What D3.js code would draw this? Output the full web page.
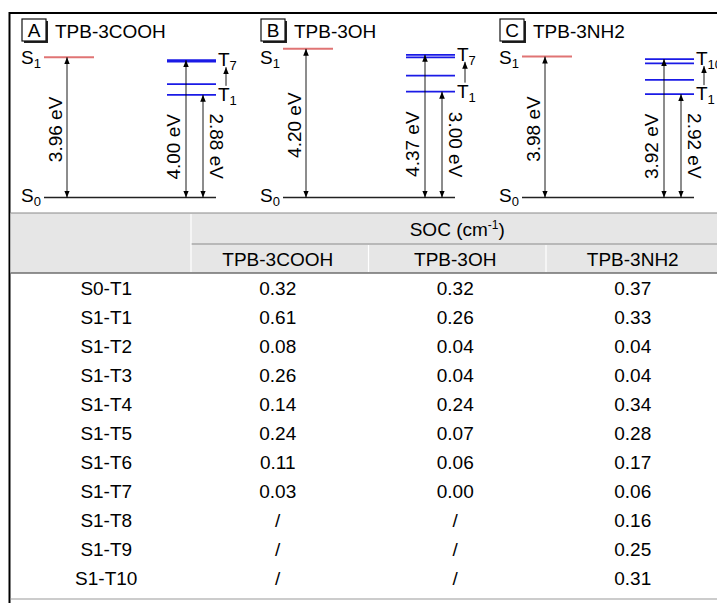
<!DOCTYPE html>
<html>
<head>
<meta charset="utf-8">
<script src="https://cdn.jsdelivr.net/npm/d3@7"></script>
<style>
  body { margin: 0; background: #fff; }
  svg { display: block; font-family: "Liberation Sans", Arial, sans-serif; }
</style>
</head>
<body>
<div id="chart"></div>
<script>
// ---- energy diagrams ----
var compounds = ["TPB-3COOH", "TPB-3OH", "TPB-3NH2"];
var panelTags = ["A", "B", "C"];
var s1Energy = [3.96, 4.20, 3.98];        // S0 -> S1 (eV)
var tTopEnergy = [4.00, 4.37, 3.92];      // S0 -> highest T (eV, label)
var t1Energy = [2.88, 3.00, 2.92];        // S0 -> T1 (eV)
var tTopName = ["7", "7", "10"];
// drawn triplet lines (eV positions)
var tripletLevels = [
    [2.90, 3.20, 3.84, 3.88],
    [2.99, 3.44, 3.96, 4.03],
    [2.92, 3.32, 3.79, 3.91]
];

// ---- SOC table ----
var pairs = ["S0-T1", "S1-T1", "S1-T2", "S1-T3", "S1-T4", "S1-T5", "S1-T6", "S1-T7", "S1-T8", "S1-T9", "S1-T10"];
var socCOOH = ["0.32", "0.61", "0.08", "0.26", "0.14", "0.24", "0.11", "0.03", "/", "/", "/"];
var socOH   = ["0.32", "0.26", "0.04", "0.04", "0.24", "0.07", "0.06", "0.00", "/", "/", "/"];
var socNH2  = ["0.37", "0.33", "0.04", "0.04", "0.34", "0.28", "0.17", "0.06", "0.16", "0.25", "0.31"];

var W = 717, H = 603;
var FS = 19;
var svg = d3.select("#chart").append("svg")
    .attr("width", W).attr("height", H)
    .attr("viewBox", [0, 0, W, H]);

var defs = svg.append("defs");
defs.append("marker")
    .attr("id", "head")
    .attr("viewBox", "0 0 10 10")
    .attr("refX", 10).attr("refY", 5)
    .attr("markerWidth", 7).attr("markerHeight", 7)
    .attr("markerUnits", "userSpaceOnUse")
    .attr("orient", "auto-start-reverse")
    .append("path").attr("d", "M0,1 L10,5 L0,9 Z").attr("fill", "#000");

// panel positions
var panelX = d3.scalePoint().domain(panelTags).range([0, 478]);
var y = d3.scaleLinear().domain([0, 4]).range([197.5, 197.5 - 35.4 * 4]);

panelTags.forEach(function (tag, i) {
    var g = svg.append("g").attr("transform", "translate(" + panelX(tag) + ",0)");

    // title box with shadow
    g.append("rect").attr("x", 24).attr("y", 21).attr("width", 24).attr("height", 22).attr("fill", "#222");
    g.append("rect").attr("x", 22).attr("y", 19).attr("width", 24).attr("height", 22)
        .attr("fill", "#fff").attr("stroke", "#111").attr("stroke-width", 1.2);
    g.append("text").attr("x", 34).attr("y", 37).attr("text-anchor", "middle")
        .attr("font-size", FS).text(tag);
    g.append("text").attr("x", 55).attr("y", 38).attr("font-size", FS).text(compounds[i]);

    var yS1 = y(s1Energy[i]);
    var levels = tripletLevels[i];
    var yTop = y(d3.max(levels));
    var yT1 = y(d3.min(levels));
    var y0 = y(0);

    // S0 line
    g.append("line").attr("x1", 44).attr("x2", 216).attr("y1", y0).attr("y2", y0)
        .attr("stroke", "#222").attr("stroke-width", 1.3);
    // S1 line
    g.append("line").attr("x1", 44).attr("x2", 94).attr("y1", yS1).attr("y2", yS1)
        .attr("stroke", "#e07474").attr("stroke-width", 2);
    // triplet lines
    g.selectAll("line.t").data(levels).enter().append("line")
        .attr("class", "t")
        .attr("x1", 167).attr("x2", 216)
        .attr("y1", function (d) { return y(d); })
        .attr("y2", function (d) { return y(d); })
        .attr("stroke", "#1a1ae6").attr("stroke-width", 1.8);

    // labels S1 / S0 / T
    function stateLabel(x, yy, main, sub) {
        var t = g.append("text").attr("x", x).attr("y", yy).attr("font-size", FS);
        t.append("tspan").text(main);
        t.append("tspan").attr("font-size", 13).attr("dy", 4).text(sub);
    }
    stateLabel(21, 64, "S", "1");
    stateLabel(21, y0 + 4, "S", "0");
    stateLabel(218, yTop + 6, "T", tTopName[i]);
    stateLabel(218, yT1 + 6, "T", "1");

    // vertical double arrows
    function arrow(x, yA, yB) {
        g.append("line").attr("x1", x).attr("x2", x).attr("y1", yB).attr("y2", yA)
            .attr("stroke", "#000").attr("stroke-width", 0.9)
            .attr("marker-start", "url(#head)").attr("marker-end", "url(#head)");
    }
    arrow(67, yS1, y0);
    arrow(186, yTop, y0);
    arrow(203, yT1, y0);

    // small T1 -> Tn arrow
    g.append("line").attr("x1", 226).attr("x2", 226).attr("y1", yT1 - 9).attr("y2", yTop + 7)
        .attr("stroke", "#000").attr("stroke-width", 0.9).attr("marker-end", "url(#head)");

    // energy labels
    function vLabel(x, yy, rot, txt) {
        g.append("text").attr("transform", "translate(" + x + "," + yy + ") rotate(" + rot + ")")
            .attr("text-anchor", "middle").attr("dominant-baseline", "central")
            .attr("font-size", FS).text(txt);
    }
    vLabel(55, (yS1 + y0) / 2 + 2, -90, s1Energy[i].toFixed(2) + " eV");
    vLabel(173, (yTop + y0) / 2 + 18, -90, tTopEnergy[i].toFixed(2) + " eV");
    vLabel(216, (yT1 + y0) / 2, 90, t1Energy[i].toFixed(2) + " eV");
});

// outer frame
svg.append("path").attr("d", "M9.5," + H + " V13 H" + W)
    .attr("fill", "none").attr("stroke", "#000").attr("stroke-width", 2);

// ---- table ----
var cols = ["label"].concat(compounds);
var colX = d3.scaleBand().domain(cols).range([13.5, 723.5]);
var tableTop = 213, hRow1 = 244, hRow2 = 273;
var rowY = d3.scaleBand().domain(pairs).range([hRow2, hRow2 + 29 * pairs.length]);

svg.append("rect").attr("x", 10.5).attr("y", tableTop).attr("width", W).attr("height", hRow2 - tableTop).attr("fill", "#e6e6e6");
svg.append("line").attr("x1", 10.5).attr("x2", W).attr("y1", tableTop).attr("y2", tableTop).attr("stroke", "#8a8a8a").attr("stroke-width", 1.2);
svg.append("line").attr("x1", colX(compounds[0])).attr("x2", W).attr("y1", hRow1).attr("y2", hRow1).attr("stroke", "#8a8a8a").attr("stroke-width", 1.2);
svg.append("line").attr("x1", 10.5).attr("x2", W).attr("y1", hRow2).attr("y2", hRow2).attr("stroke", "#6e6e6e").attr("stroke-width", 1.5);
// header separators (white)
svg.append("line").attr("x1", colX(compounds[0])).attr("x2", colX(compounds[0])).attr("y1", tableTop + 1).attr("y2", hRow2 - 1)
    .attr("stroke", "#fff").attr("stroke-width", 1.2);
compounds.slice(1).forEach(function (c) {
    svg.append("line").attr("x1", colX(c)).attr("x2", colX(c)).attr("y1", hRow1 + 1).attr("y2", hRow2 - 1)
        .attr("stroke", "#fff").attr("stroke-width", 1.2);
});

var soc = svg.append("text")
    .attr("x", (colX(compounds[0]) + colX.range()[1]) / 2).attr("y", 236)
    .attr("text-anchor", "middle").attr("font-size", FS);
soc.append("tspan").text("SOC (cm");
soc.append("tspan").attr("font-size", 12).attr("dy", -7).text("-1");
soc.append("tspan").attr("dy", 7).text(")");

svg.selectAll("text.hdr").data(compounds).enter().append("text")
    .attr("class", "hdr")
    .attr("x", function (d) { return colX(d) + colX.bandwidth() / 2 - 2; })
    .attr("y", 266).attr("text-anchor", "middle").attr("font-size", FS)
    .text(function (d) { return d; });

var colsData = [pairs, socCOOH, socOH, socNH2];
colsData.forEach(function (vals, ci) {
    svg.selectAll("text.c" + ci).data(vals).enter().append("text")
        .attr("class", "c" + ci)
        .attr("x", colX(cols[ci]) + colX.bandwidth() / 2 - (ci === 0 ? -4 : 2))
        .attr("y", function (d, j) { return rowY(pairs[j]) + rowY.bandwidth() / 2 + 7; })
        .attr("text-anchor", "middle").attr("font-size", FS)
        .text(function (d) { return d; });
});

svg.append("line").attr("x1", 10.5).attr("x2", W).attr("y1", 599).attr("y2", 599)
    .attr("stroke", "#9a9a9a").attr("stroke-width", 1.2);
</script>
</body>
</html>
